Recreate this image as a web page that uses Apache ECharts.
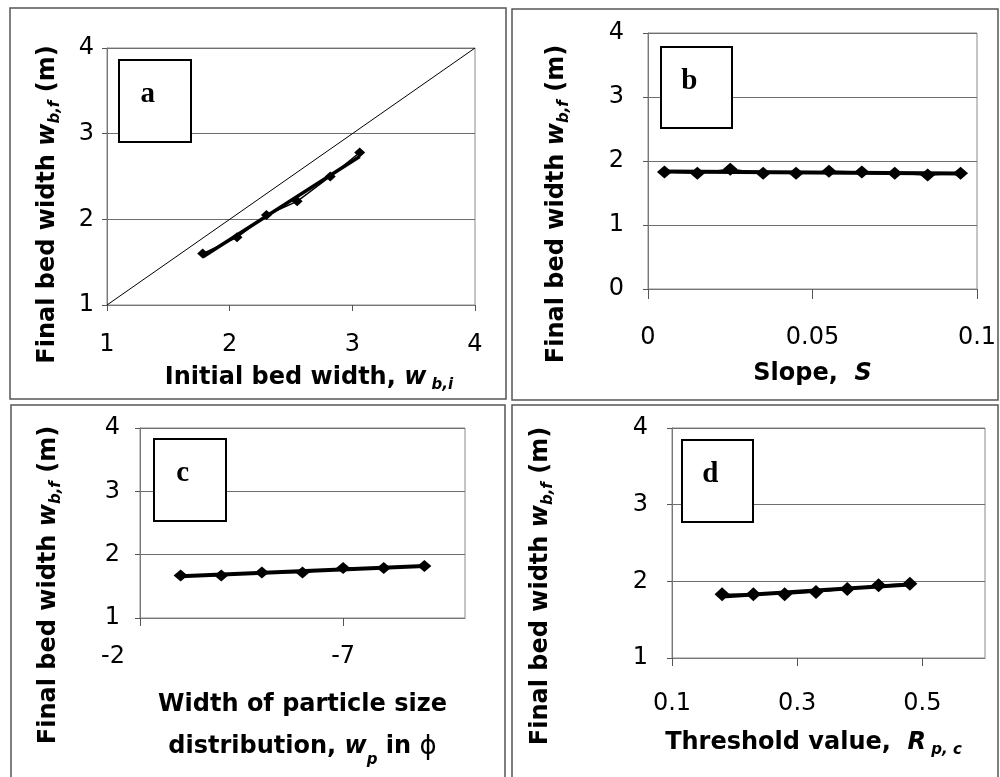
<!DOCTYPE html>
<html>
<head>
<meta charset="utf-8">
<script src="https://cdn.jsdelivr.net/npm/echarts@6/dist/echarts.min.js"></script>
<style>
  html, body { margin: 0; padding: 0; background: #fff; }
  #chart { width: 1000px; height: 777px; }
</style>
</head>
<body>
<div id="chart"></div>
<script>
// Panel a: initial vs final bed width (m)
const aInitial = [1.78, 2.06, 2.30, 2.55, 2.82, 3.06];
const aFinal   = [1.60, 1.79, 2.05, 2.21, 2.50, 2.78];
const aOneToOne = [[1, 1], [4, 4]];
const aTicks = [1, 2, 3, 4];

// Panel b: slope S
const bSlope = [0.005, 0.015, 0.025, 0.035, 0.045, 0.055, 0.065, 0.075, 0.085, 0.095];
const bFinal = [1.83, 1.81, 1.87, 1.81, 1.81, 1.84, 1.83, 1.81, 1.78, 1.81];
const bXTicks = [0, 0.05, 0.1];
const bYTicks = [0, 1, 2, 3, 4];

// Panel c: width of particle size distribution (phi units)
const cWidth = [-3, -4, -5, -6, -7, -8, -9];
const cFinal = [1.67, 1.67, 1.72, 1.72, 1.79, 1.79, 1.82];
const cXTicks = [-2, -7];
const cYTicks = [1, 2, 3, 4];

// Panel d: threshold value R p,c
const dThreshold = [0.18, 0.23, 0.28, 0.33, 0.38, 0.43, 0.48];
const dFinal = [1.83, 1.83, 1.83, 1.86, 1.90, 1.95, 1.97];
const dXTicks = [0.1, 0.3, 0.5];
const dYTicks = [1, 2, 3, 4];

const panelLetters = ['a', 'b', 'c', 'd'];

const SANS = 'DejaVu Sans';
const zip = (xs, ys) => xs.map((x, i) => [x, ys[i]]);

// least-squares trend line spanning the data range
function trend(xs, ys) {
  const n = xs.length;
  const mx = xs.reduce((s, v) => s + v, 0) / n;
  const my = ys.reduce((s, v) => s + v, 0) / n;
  let sxy = 0, sxx = 0;
  for (let i = 0; i < n; i++) { sxy += (xs[i] - mx) * (ys[i] - my); sxx += (xs[i] - mx) ** 2; }
  const k = sxy / sxx, b0 = my - k * mx;
  const x0 = Math.min(...xs), x1 = Math.max(...xs);
  return [[x0, k * x0 + b0], [x1, k * x1 + b0]];
}

function makeRich(lh) {
  return {
    t: { fontFamily: SANS, fontWeight: 'bold', fontSize: 24, color: '#000', lineHeight: lh },
    w: { fontFamily: SANS, fontWeight: 'bold', fontStyle: 'italic', fontSize: 24, color: '#000', lineHeight: lh },
    s: { fontFamily: SANS, fontWeight: 'bold', fontStyle: 'italic', fontSize: 15, color: '#000', lineHeight: lh - 10, verticalAlign: 'bottom' },
    phi: { fontFamily: SANS, fontSize: 26, color: '#000', lineHeight: lh }
  };
}
const rich = makeRich(30);
const richTwoLine = makeRich(42);
const yName = '{t|Final bed width }{w|w}{s|b,f}{t| (m)}';

const grids = [
  { left: 107, top: 48, width: 368, height: 257 },
  { left: 648, top: 33, width: 329, height: 256 },
  { left: 140, top: 428, width: 325, height: 190 },
  { left: 672, top: 428, width: 313, height: 230 }
].map(g => Object.assign(g, {
  show: true, backgroundColor: '#fff', borderColor: '#8a8a8a', borderWidth: 1,
  containLabel: false, outerBoundsMode: 'none'
}));

const tickLabel = { fontFamily: SANS, fontSize: 24, color: '#000' };
const axisLine = { show: true, lineStyle: { color: '#777', width: 1 } };
const tick = { show: true, inside: false, length: 5, lineStyle: { color: '#555' } };
const split = { show: true, lineStyle: { color: '#6e6e6e', width: 1 } };

function xAxis(i, o) {
  return Object.assign({
    type: 'value', gridIndex: i, axisLine, splitLine: { show: false },
    nameLocation: 'middle', nameTextStyle: { rich }
  }, o);
}
function yAxis(i, o) {
  return Object.assign({
    type: 'value', gridIndex: i, axisLine, axisTick: tick, splitLine: split,
    name: yName, nameLocation: 'middle', nameRotate: 90, nameTextStyle: { rich }
  }, o);
}

const markerStyle = { color: '#000' };
function dataSeries(i, xs, ys, size) {
  return {
    type: 'line', xAxisIndex: i, yAxisIndex: i, data: zip(xs, ys),
    symbol: 'diamond', symbolSize: size, itemStyle: markerStyle,
    lineStyle: { color: '#000', width: 1.5 }, z: 4, animation: false
  };
}
function trendSeries(i, xs, ys, w) {
  return {
    type: 'line', xAxisIndex: i, yAxisIndex: i, data: trend(xs, ys),
    symbol: 'none', lineStyle: { color: '#000', width: w }, z: 3, animation: false
  };
}

const letterBoxes = [
  { x: 119, y: 60, w: 72, h: 82 },
  { x: 661, y: 47, w: 71, h: 81 },
  { x: 154, y: 439, w: 72, h: 82 },
  { x: 682, y: 440, w: 71, h: 82 }
];
const panelFrames = [
  { x: 10, y: 8, w: 496, h: 391 },
  { x: 512, y: 9, w: 486, h: 391 },
  { x: 11, y: 405, w: 494, h: 380 },
  { x: 512, y: 405, w: 486, h: 380 }
];

const graphic = [];
panelFrames.forEach(f => graphic.push({
  type: 'rect', shape: { x: f.x, y: f.y, width: f.w, height: f.h },
  style: { fill: null, stroke: '#555', lineWidth: 1.5 }, z: 0, silent: true
}));
letterBoxes.forEach((b, i) => {
  graphic.push({
    type: 'rect', shape: { x: b.x, y: b.y, width: b.w, height: b.h },
    style: { fill: '#fff', stroke: '#000', lineWidth: 2 }, z: 10
  });
  graphic.push({
    type: 'text', x: b.x + b.w * 0.4, y: b.y + 35, z: 11,
    style: { text: panelLetters[i], font: 'bold 29px "Liberation Serif"', fill: '#000',
             align: 'center', verticalAlign: 'middle' }
  });
});

const option = {
  backgroundColor: '#fff',
  animation: false,
  grid: grids,
  graphic,
  xAxis: [
    xAxis(0, { min: 1, max: 4, interval: 1,
      axisTick: Object.assign({}, tick, { length: 6 }),
      axisLabel: Object.assign({}, tickLabel, { margin: 28 }),
      name: '{t|Initial bed width, }{w|w}{s| b,i}', nameGap: 58,
      nameTextStyle: { rich, padding: [0, 0, 0, 36] } }),
    xAxis(1, { min: 0, max: 0.1, interval: 0.05,
      axisTick: Object.assign({}, tick, { length: 10 }),
      axisLabel: Object.assign({}, tickLabel, { margin: 37, customValues: bXTicks }),
      name: '{t|Slope,  }{w|S}', nameGap: 70 }),
    xAxis(2, { min: -10, max: -2, inverse: true,
      axisTick: Object.assign({}, tick, { length: 8, customValues: cXTicks }),
      axisLabel: Object.assign({}, tickLabel, {
        margin: 27, customValues: cXTicks,
        // the end label sits left of its tick
        formatter: v => (v === cXTicks[0] ? '{edge|' + v + '}' : String(v)),
        rich: { edge: { fontFamily: SANS, fontSize: 24, color: '#000', padding: [0, 54, 0, 0] } }
      }),
      name: '{t|Width of particle size}\n{t|distribution, }{w|w}{s|p}{t| in }{phi|ϕ}', nameGap: 66,
      nameTextStyle: { rich: richTwoLine } }),
    xAxis(3, { min: 0.1, max: 0.6,
      axisTick: Object.assign({}, tick, { length: 8, customValues: dXTicks }),
      axisLabel: Object.assign({}, tickLabel, { margin: 34, customValues: dXTicks }),
      name: '{t|Threshold value,  }{w|R}{s| p, c}', nameGap: 70,
      nameTextStyle: { rich, padding: [0, 30, 0, 0] } })
  ],
  yAxis: [
    yAxis(0, { min: 1, max: 4, interval: 1, axisLabel: Object.assign({}, tickLabel, { margin: 13 }),
      nameGap: 44, nameTextStyle: { rich, padding: [0, 56, 0, 0] } }),
    yAxis(1, { min: 0, max: 4, interval: 1, axisLabel: Object.assign({}, tickLabel, { margin: 24 }),
      nameGap: 76, nameTextStyle: { rich, padding: [0, 86, 0, 0] } }),
    yAxis(2, { min: 1, max: 4, interval: 1, axisLabel: Object.assign({}, tickLabel, { margin: 20 }),
      nameGap: 76, nameTextStyle: { rich, padding: [0, 124, 0, 0] } }),
    yAxis(3, { min: 1, max: 4, interval: 1, axisLabel: Object.assign({}, tickLabel, { margin: 24 }),
      nameGap: 116, nameTextStyle: { rich, padding: [0, 86, 0, 0] } })
  ],
  series: [
    { type: 'line', xAxisIndex: 0, yAxisIndex: 0, data: aOneToOne, symbol: 'none',
      lineStyle: { color: '#000', width: 1 }, z: 2, animation: false },
    trendSeries(0, aInitial, aFinal, 3.5),
    dataSeries(0, aInitial, aFinal, [11, 10]),
    trendSeries(1, bSlope, bFinal, 4),
    dataSeries(1, bSlope, bFinal, [15, 13]),
    trendSeries(2, cWidth, cFinal, 4),
    dataSeries(2, cWidth, cFinal, [14, 12]),
    trendSeries(3, dThreshold, dFinal, 4),
    dataSeries(3, dThreshold, dFinal, [15, 14])
  ]
};

echarts.init(document.getElementById('chart'), null, { renderer: 'canvas' }).setOption(option);
</script>
</body>
</html>
